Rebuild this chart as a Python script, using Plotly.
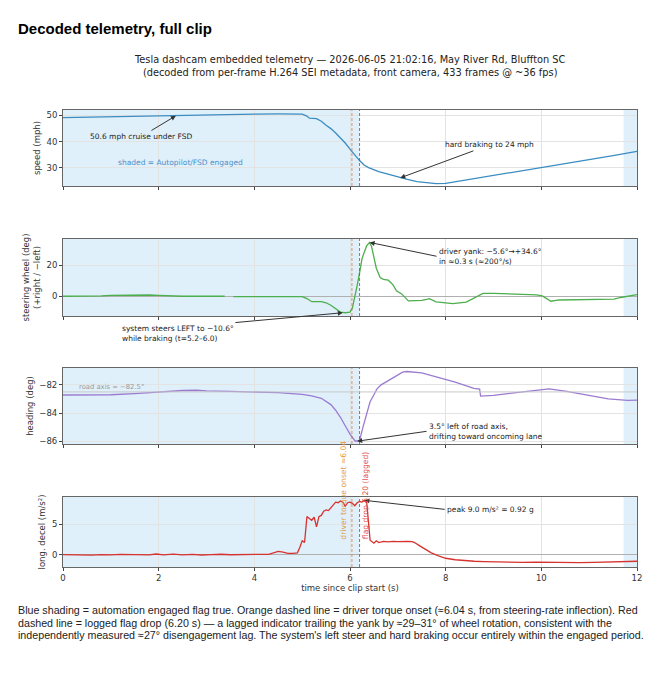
import plotly.graph_objects as go

# values
speed_t = [0, 0.5, 1.0, 1.5, 2.0, 2.5, 3.0, 3.5, 4.0, 4.5, 4.8, 5.0, 5.1, 5.15, 5.3,
           5.4, 5.5, 5.6, 5.7, 5.8, 5.9, 6.0, 6.1, 6.2, 6.3, 6.4, 6.6, 6.8, 7.0,
           7.2, 7.4, 7.6, 7.8, 8.0, 8.5, 9.0, 9.5, 10.0, 10.5, 11.0, 11.5, 12.0]
speed_mph = [49.2, 49.4, 49.6, 49.8, 50.0, 50.2, 50.35, 50.45, 50.55, 50.6, 50.6, 50.5,
             49.8, 49.0, 48.8, 47.8, 46.3, 45.0, 43.3, 41.5, 39.5, 37.2, 34.8, 32.8,
             31.0, 30.0, 28.6, 27.5, 26.6, 25.6, 24.8, 24.3, 24.0, 24.1, 25.6, 27.0,
             28.5, 30.0, 31.5, 33.0, 34.7, 36.3]

steer_t = [0, 0.5, 0.8, 1.0, 1.5, 1.8, 2.0, 2.2, 2.5, 3.0, 3.38, 3.46, 3.56, 4.0, 4.5,
           5.0, 5.1, 5.2, 5.4, 5.5, 5.6, 5.7, 5.8, 5.9, 6.0, 6.05, 6.1, 6.15, 6.2,
           6.25, 6.3, 6.35, 6.41, 6.45, 6.5, 6.55, 6.63, 6.7, 6.8, 6.9, 6.97, 7.08,
           7.22, 7.35, 7.5, 7.6, 7.66, 7.8, 8.0, 8.15, 8.43, 8.55, 8.64, 8.78, 9.0,
           9.2, 9.6, 9.9, 10.02, 10.2, 10.37, 10.6, 11.1, 11.52, 11.66, 11.8, 11.94, 12.0]
steer_deg = [0, 0, 0.2, 0.5, 0.8, 0.8, 0.6, 0.2, 0, 0, 0, None, -0.2, -0.2, -0.2,
             -0.2, -1.5, -3.5, -3.5, -4.2, -5.8, -7.8, -10.2, -10.6, -10.2, -7.5, -1.0,
             7.0, 15.0, 24.0, 28.5, 32.5, 34.6, 32.0, 25.0, 18.0, 12.0, 10.8, 10.3,
             7.3, 3.5, 1.5, -3.0, -2.9, -2.6, -2.0, -1.5, -3.6, -4.4, -4.7, -3.8, -2.0,
             -0.3, 1.8, 1.9, 1.6, 1.3, 0.9, 0.2, -3.2, -2.4, -2.3, -2.1, -1.9, -0.8,
             -0.2, 0.7, 1.0]

head_t = [0, 0.5, 1.0, 1.5, 2.0, 2.5, 2.8, 3.0, 3.5, 4.0, 4.5, 5.0, 5.2, 5.4, 5.6,
          5.7, 5.8, 5.9, 6.0, 6.11, 6.15, 6.2, 6.28, 6.35, 6.42, 6.5, 6.56, 6.65, 6.77,
          6.95, 7.1, 7.19, 7.5, 7.82, 8.2, 8.59, 8.71, 8.73, 9.0, 9.43, 9.8, 10.16,
          10.5, 10.9, 11.4, 11.8, 12.0]
head_deg = [-82.72, -82.72, -82.7, -82.62, -82.5, -82.4, -82.38, -82.42, -82.46, -82.5,
            -82.55, -82.68, -82.78, -82.95, -83.4, -83.8, -84.3, -84.9, -85.5, -86.0,
            -86.0, -85.95, -84.9, -84.0, -83.2, -82.7, -82.3, -82.0, -81.76, -81.4,
            -81.1, -81.05, -81.15, -81.45, -81.8, -82.24, -82.3, -82.8, -82.75, -82.57,
            -82.42, -82.29, -82.45, -82.71, -83.0, -83.1, -83.08]

decel_t = [0, 0.2, 0.4, 0.6, 0.8, 1.0, 1.2, 1.4, 1.6, 1.8, 1.95, 2.1, 2.3, 2.5, 2.7,
           2.9, 3.1, 3.3, 3.5, 3.7, 3.9, 4.1, 4.3, 4.4, 4.5, 4.6, 4.7, 4.8, 4.9, 4.95,
           5.0, 5.05, 5.1, 5.15, 5.2, 5.25, 5.3, 5.35, 5.4, 5.45, 5.5, 5.55, 5.6, 5.7,
           5.75, 5.8, 5.85, 5.9, 5.95, 6.0, 6.05, 6.1, 6.15, 6.2, 6.25, 6.3, 6.35, 6.38,
           6.42, 6.5, 6.55, 6.6, 6.7, 6.8, 6.9, 7.0, 7.1, 7.2, 7.3, 7.35, 7.45, 7.55,
           7.7, 7.85, 8.0, 8.2, 8.4, 8.6, 8.8, 9.0, 9.3, 9.6, 9.9, 10.2, 10.5, 10.8,
           11.1, 11.4, 11.7, 11.9, 12.0]
decel_ms2 = [0.0, -0.05, 0.02, -0.08, 0.0, -0.04, 0.05, -0.02, 0.03, -0.05, 0.1, -0.05,
             0.08, -0.03, 0.04, -0.06, 0.0, 0.06, -0.02, 0.04, 0.0, 0.05, 0.05, 0.35,
             0.55, 0.4, 0.2, 0.2, 0.3, 1.2, 2.3, 2.0, 6.3, 6.0, 5.7, 6.2, 4.6, 6.3, 6.5,
             7.2, 7.4, 7.3, 7.8, 8.7, 8.6, 8.9, 8.7, 8.0, 8.6, 8.7, 8.5, 8.1, 8.6, 8.8,
             8.7, 9.0, 8.6, 6.0, 2.4, 1.9, 2.3, 2.0, 2.2, 2.1, 2.2, 2.15, 2.2, 2.2, 2.15,
             2.0, 1.5, 1.0, 0.3, -0.2, -0.6, -0.85, -1.0, -1.1, -1.15, -1.2, -1.22, -1.28,
             -1.25, -1.3, -1.28, -1.32, -1.3, -1.25, -1.2, -1.1, -1.1]

engaged_spans = [(0.0, 6.20), (11.72, 12.0)]
torque_onset = 6.04
flag_drop = 6.20
road_axis = -82.5
x_ticks = [0, 2, 4, 6, 8, 10, 12]

caption_lines = [
    "Blue shading = automation engaged flag true. Orange dashed line = driver torque "
    "onset (\u22486.04 s, from steering-rate inflection). Red",
    "dashed line = logged flag drop (6.20 s) \u2014 a lagged indicator trailing the yank "
    "by \u224829\u201331\u00b0 of wheel rotation, consistent with the",
    "independently measured \u224827\u00b0 disengagement lag. The system's left steer and "
    "hard braking occur entirely within the engaged period.",
]

# page has an 8px body margin, so the figure is drawn 8px smaller and shifted
OFF = 8
W, H = 660 - OFF, 680 - OFF
ML, MR, MT, MB = 63 - OFF, 23, 110 - OFF, 113
PH = H - MT - MB
PW = W - ML - MR


def py(px):
    # reference page pixel row -> paper y
    return (H - MB - (px - OFF)) / PH


def pxx(px):
    # reference page pixel column -> paper x
    return (px - OFF - ML) / PW


FONT = "DejaVu Sans"
panels = [
    # (y px top, y px bottom, y range, ticks, title)
    (110, 186, [23.1, 52.1], [30, 40, 50], "speed (mph)"),
    (239, 316, [-12.7, 36.8], [0, 20], "steering wheel (deg)<br>(+right / \u2212left)"),
    (368, 444, [-86.2, -80.8], [-86, -84, -82], "heading (deg)"),
    (497, 567, [-2.05, 9.55], [0, 5], "long. decel (m/s\u00b2)"),
]

fig = go.Figure()
traces = [(speed_t, speed_mph, "#3a8cc1"), (steer_t, steer_deg, "#4cae4c"),
          (head_t, head_deg, "#9b7bd1"), (decel_t, decel_ms2, "#d6332e")]
for i, (tx, ty, col) in enumerate(traces):
    n = "" if i == 0 else str(i + 1)
    fig.add_trace(go.Scatter(x=tx, y=ty, mode="lines", line=dict(color=col, width=1.3),
                             xaxis="x" + n, yaxis="y" + n, showlegend=False,
                             connectgaps=False))

layout = dict(width=W, height=H, margin=dict(l=ML, r=MR, t=MT, b=MB),
              paper_bgcolor="white", plot_bgcolor="white",
              font=dict(family=FONT, size=8.5, color="#333"))
shapes = []
for i, (top, bot, yr, yt, title) in enumerate(panels):
    n = "" if i == 0 else str(i + 1)
    layout["xaxis" + n] = dict(
        domain=[0, 1], anchor="y" + n, range=[0, 12], tickvals=x_ticks,
        showticklabels=(i == 3), ticks="outside", ticklen=3, tickcolor="#444",
        showline=True, mirror=True, linecolor="#666", linewidth=1,
        showgrid=True, gridcolor="#e3e3e3", gridwidth=0.6, zeroline=False,
        tickfont=dict(size=8.5))
    layout["yaxis" + n] = dict(
        domain=[py(bot), py(top)], anchor="x" + n, range=yr, tickvals=yt,
        ticks="outside", ticklen=3, tickcolor="#444",
        showline=True, mirror=True, linecolor="#666", linewidth=1,
        showgrid=True, gridcolor="#e3e3e3", gridwidth=0.6,
        zeroline=(i in (1, 3)), zerolinecolor="#b0b0b0", zerolinewidth=1,
        title=dict(text=title, font=dict(size=8.5), standoff=4),
        tickfont=dict(size=8.5))
    for x0, x1 in engaged_spans:
        shapes.append(dict(type="rect", xref="x" + n, yref="y" + n + " domain",
                           x0=x0, x1=x1, y0=0, y1=1, fillcolor="#dff0fb",
                           line=dict(width=0), layer="below"))
    shapes.append(dict(type="line", xref="x" + n, yref="y" + n + " domain",
                       x0=torque_onset, x1=torque_onset, y0=0, y1=1,
                       line=dict(color="rgba(205,120,70,0.75)", width=1, dash="3px,2px")))
    shapes.append(dict(type="line", xref="x" + n, yref="y" + n + " domain",
                       x0=flag_drop, x1=flag_drop, y0=0, y1=1,
                       line=dict(color="rgba(160,60,80,0.8)", width=1, dash="3px,2px")))

shapes.append(dict(type="line", xref="x3 domain", yref="y3", x0=0, x1=1,
                   y0=road_axis, y1=road_axis, line=dict(color="#c8c8c8", width=1)))
layout["shapes"] = shapes
layout["xaxis4"]["title"] = dict(text="time since clip start (s)", font=dict(size=8.5),
                                 standoff=2)

arrow = dict(showarrow=True, arrowhead=2, arrowsize=1, arrowwidth=1,
             arrowcolor="#333", font=dict(size=7.5, color="#222"))
ann = [
    dict(text="<b>Decoded telemetry, full clip</b>", xref="paper", yref="paper",
         x=pxx(16), y=py(28), xanchor="left", yanchor="middle", showarrow=False,
         font=dict(family="Liberation Sans", size=15, color="black")),
    dict(text="Tesla dashcam embedded telemetry \u2014 2026-06-05 21:02:16, May River Rd, "
              "Bluffton SC<br>(decoded from per-frame H.264 SEI metadata, front camera, "
              "433 frames @ ~36 fps)",
         xref="paper", yref="paper", x=0.5, y=py(66), xanchor="center",
         yanchor="middle", showarrow=False, font=dict(size=9.8, color="#222")),
    dict(arrow, text="50.6 mph cruise under FSD", xref="x", yref="y", x=2.36, y=49.9,
         axref="x", ayref="y", ax=1.64, ay=42.0),
    dict(text="shaded = Autopilot/FSD engaged", xref="x", yref="y", x=2.46, y=32.2,
         showarrow=False, font=dict(size=7.5, color="#4a8fc9")),
    dict(arrow, text="hard braking to 24 mph", xref="x", yref="y", x=7.05, y=26.2,
         axref="x", ayref="y", ax=8.92, ay=38.8),
    dict(arrow, text="driver yank: \u22125.6\u00b0\u2192+34.6\u00b0<br>in \u22480.3 s "
                     "(\u2248200\u00b0/s)", align="left", xanchor="left",
         xref="x2", yref="y2", x=6.41, y=34.6, axref="x2", ayref="y2", ax=7.81, ay=25.7),
    dict(arrow, text="system steers LEFT to \u221210.6\u00b0<br>while braking "
                     "(t=5.2\u20136.0)", align="left", xanchor="left",
         xref="x2", yref="y2", x=5.85, y=-10.6, axref="x2", ayref="y2", ax=1.19, ay=-23.7),
    dict(text="road axis = \u221282.5\u00b0", xref="x3", yref="y3", x=0.29, y=-82.12,
         xanchor="left", showarrow=False, font=dict(size=6.8, color="#9a9a9a")),
    dict(arrow, text="3.5\u00b0 left of road axis,<br>drifting toward oncoming lane",
         align="left", xanchor="left", xref="x3", yref="y3", x=6.15, y=-86.0,
         axref="x3", ayref="y3", ax=7.6, ay=-85.3),
    dict(arrow, text="peak 9.0 m/s\u00b2 = 0.92 g", xanchor="left", xref="x4", yref="y4",
         x=6.3, y=9.0, axref="x4", ayref="y4", ax=7.98, ay=7.5),
    dict(text="driver torque onset \u22486.04", xref="x4", yref="y4", x=5.87, y=2.2,
         textangle=-90, xanchor="center", yanchor="bottom", showarrow=False,
         font=dict(size=7.6, color="#e39a3a")),
    dict(text="flag drop 6.20 (lagged)", xref="x4", yref="y4", x=6.33, y=2.2,
         textangle=-90, xanchor="center", yanchor="bottom", showarrow=False,
         font=dict(size=7.6, color="#e04848")),
]
for k, line in enumerate(caption_lines):
    ann.append(dict(text=line, xref="paper", yref="paper", x=pxx(16),
                    y=py(610 + 12.5 * k), xanchor="left", yanchor="middle",
                    showarrow=False,
                    font=dict(family="Liberation Sans", size=10.7, color="#222")))
layout["annotations"] = ann
fig.update_layout(**layout)
fig.write_html("out.html")
